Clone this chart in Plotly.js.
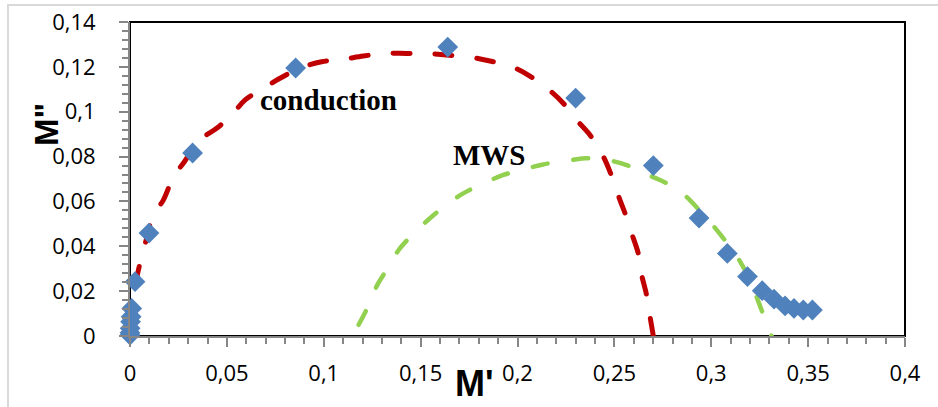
<!DOCTYPE html>
<html>
<head>
<meta charset="utf-8">
<script src="https://cdn.plot.ly/plotly-3.0.1.min.js"></script>
<style>
html,body{margin:0;padding:0;background:#fff;}
#chart{width:938px;height:407px;}
.js-line{stroke-linecap:round;}
</style>
</head>
<body>
<div id="chart"></div>
<script>
// Measured points (M', M'')
var dataX = [0, 0, 0.0001, 0.0003, 0.0006, 0.0009, 0.0026, 0.0098, 0.0323, 0.0855, 0.1640, 0.2300, 0.2701, 0.2937, 0.3083, 0.3187, 0.3263, 0.3324, 0.3381, 0.3427, 0.3475, 0.3522];
var dataY = [0.0004, 0.0014, 0.0034, 0.0064, 0.0086, 0.0123, 0.0242, 0.0459, 0.0816, 0.1195, 0.1288, 0.1061, 0.0760, 0.0526, 0.0368, 0.0265, 0.0202, 0.0164, 0.0134, 0.0123, 0.0116, 0.0116];

// Conduction arc (red dashed)
var condX = [0.0005, 0.0017, 0.0045, 0.0086, 0.0120, 0.0172, 0.0224, 0.0275, 0.0360, 0.0447, 0.0525, 0.0593, 0.0688, 0.0774, 0.0877, 0.0989, 0.1092, 0.1204, 0.1316, 0.1428, 0.1530, 0.1634, 0.1755, 0.1858, 0.1970, 0.2064, 0.2159, 0.2236, 0.2305, 0.2374, 0.2434, 0.2477, 0.2529, 0.2555, 0.2589, 0.2623, 0.2641, 0.2666, 0.2684, 0.2701];
var condY = [0.0050, 0.0175, 0.0300, 0.0436, 0.0540, 0.0606, 0.0710, 0.0770, 0.0874, 0.0926, 0.0985, 0.1052, 0.1104, 0.1149, 0.1194, 0.1223, 0.1233, 0.1248, 0.1260, 0.1260, 0.1260, 0.1253, 0.1243, 0.1226, 0.1201, 0.1159, 0.1100, 0.1038, 0.0963, 0.0896, 0.0815, 0.0733, 0.0606, 0.0547, 0.0458, 0.0369, 0.0272, 0.0183, 0.0086, 0.0000];

// MWS arc (green dashed)
var mwsX = [0.1180, 0.1230, 0.1276, 0.1333, 0.1390, 0.1462, 0.1548, 0.1626, 0.1720, 0.1814, 0.1927, 0.2021, 0.2133, 0.2236, 0.2348, 0.2443, 0.2563, 0.2632, 0.2766, 0.2852, 0.2976, 0.3007, 0.3083, 0.3139, 0.3208, 0.3234, 0.3274, 0.3311];
var mwsY = [0.0050, 0.0134, 0.0227, 0.0306, 0.0387, 0.0455, 0.0525, 0.0580, 0.0636, 0.0676, 0.0718, 0.0740, 0.0765, 0.0778, 0.0792, 0.0788, 0.0762, 0.0733, 0.0683, 0.0636, 0.0525, 0.0495, 0.0413, 0.0346, 0.0235, 0.0175, 0.0083, 0.0000];

// Tick labels
var xTickVals = [0, 0.05, 0.1, 0.15, 0.2, 0.25, 0.3, 0.35, 0.4];
var xTickText = ['0', '0,05', '0,1', '0,15', '0,2', '0,25', '0,3', '0,35', '0,4'];
var yTickVals = [0, 0.02, 0.04, 0.06, 0.08, 0.1, 0.12, 0.14];
var yTickText = ['0', '0,02', '0,04', '0,06', '0,08', '0,1', '0,12', '0,14'];

var axisGray = '#868686';
var tickFont = {family: 'Open Sans, Liberation Sans, sans-serif', size: 22, color: '#000'};

var traces = [
  {x: condX, y: condY, mode: 'lines', line: {color: '#C00000', width: 5, dash: '17px,25px', shape: 'spline'}, hoverinfo: 'skip', cliponaxis: false},
  {x: mwsX, y: mwsY, mode: 'lines', line: {color: '#92D050', width: 4.5, dash: '15px,26px', shape: 'spline'}, hoverinfo: 'skip', cliponaxis: false},
  {x: dataX, y: dataY, mode: 'markers', marker: {symbol: 'diamond', size: 16, color: '#4F81BD'}, cliponaxis: false}
];

var layout = {
  width: 938, height: 407,
  margin: {l: 130, r: 33, t: 22, b: 71, pad: 0},
  paper_bgcolor: '#fff', plot_bgcolor: '#fff',
  showlegend: false,
  xaxis: {
    range: [0, 0.4], tickmode: 'array', tickvals: xTickVals, ticktext: xTickText,
    showgrid: false, zeroline: false, showline: true, linecolor: axisGray, linewidth: 2,
    ticks: 'outside', ticklen: 9, tickwidth: 2, tickcolor: axisGray, tickfont: tickFont,
    ticklabelstandoff: 8,
    minor: {tickmode: 'linear', tick0: 0, dtick: 0.01, ticks: 'outside', ticklen: 6, tickwidth: 2, tickcolor: axisGray, showgrid: false}
  },
  yaxis: {
    range: [0, 0.14], tickmode: 'array', tickvals: yTickVals, ticktext: yTickText,
    showgrid: false, zeroline: false, showline: true, linecolor: axisGray, linewidth: 2,
    ticks: 'outside', ticklen: 9, tickwidth: 2, tickcolor: axisGray, tickfont: tickFont,
    ticklabelstandoff: 19,
    minor: {tickmode: 'linear', tick0: 0, dtick: 0.004, ticks: 'outside', ticklen: 6, tickwidth: 2, tickcolor: axisGray, showgrid: false}
  },
  shapes: [
    {type: 'rect', xref: 'paper', yref: 'paper', x0: -0.1574, x1: 1.2, y0: -0.4, y1: 1.054, line: {color: '#D9D9D9', width: 2}, layer: 'below'},
    {type: 'rect', xref: 'paper', yref: 'paper', x0: 0, x1: 1, y0: 0, y1: 1, line: {color: '#000', width: 2}, layer: 'below'}
  ],
  annotations: [
    {text: '<b>conduction</b>', xref: 'x', yref: 'y', x: 0.1022, y: 0.1052, showarrow: false, xanchor: 'center', yanchor: 'middle', font: {family: 'Liberation Serif, serif', size: 29, color: '#000'}},
    {text: '<b>MWS</b>', xref: 'x', yref: 'y', x: 0.1858, y: 0.0807, showarrow: false, xanchor: 'center', yanchor: 'middle', font: {family: 'Liberation Serif, serif', size: 29, color: '#000'}},
    {text: "<b>M'</b>", xref: 'paper', yref: 'paper', x: 0.444, y: -0.150, showarrow: false, xanchor: 'center', yanchor: 'middle', font: {family: 'Liberation Sans, sans-serif', size: 36, color: '#000'}},
    {text: '<b>M"</b>', xref: 'paper', yref: 'paper', x: -0.107, y: 0.672, textangle: -90, showarrow: false, xanchor: 'center', yanchor: 'middle', font: {family: 'Liberation Sans, sans-serif', size: 33, color: '#000'}}
  ]
};

Plotly.newPlot('chart', traces, layout, {displayModeBar: false, staticPlot: true});
</script>
</body>
</html>
